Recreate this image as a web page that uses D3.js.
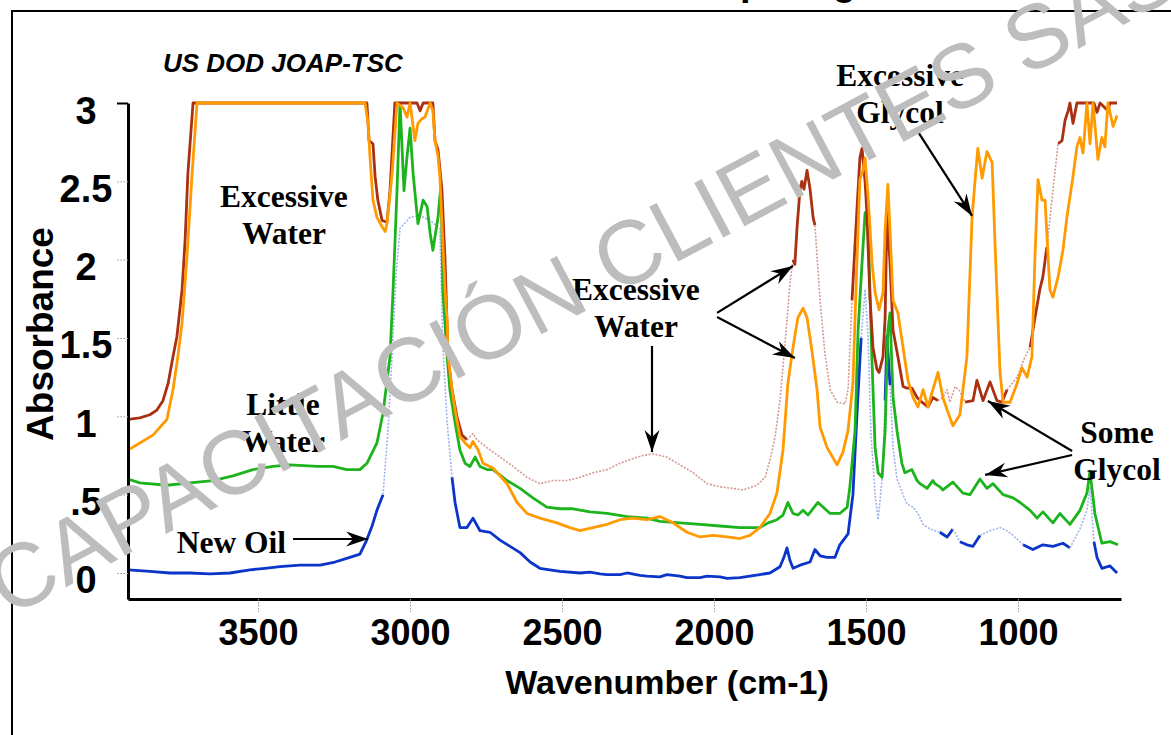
<!DOCTYPE html>
<html><head><meta charset="utf-8">
<script src="https://cdn.jsdelivr.net/npm/d3@7"></script>
<style>html,body{margin:0;padding:0;background:#fff;overflow:hidden}svg{display:block}</style>
</head><body>
<svg id="chart" width="1171" height="735"></svg>
<script>
// ---------------- data ----------------
const xTickValues = [3500, 3000, 2500, 2000, 1500, 1000];
const yTickValues = [0, 0.5, 1, 1.5, 2, 2.5, 3];
const yTickLabels = ["0", ".5", "1", "1.5", "2", "2.5", "3"];

// New Oil (blue)  [wavenumber, absorbance]
const newOil = [[3928,0.02],[3856,0.01],[3790,0.0],[3724,0.0],[3658,-0.005],[3592,0.0],[3527,0.02],[3477,0.03],[3428,0.04],[3362,0.05],[3296,0.05],[3247,0.07],[3198,0.1],[3165,0.12],[3145,0.2],[3125,0.3],[3109,0.4],[3089,0.5],[3073,0.9],[3059,1.4],[3046,1.9],[3033,2.2],[3000,2.27],[2967,2.28],[2934,2.25],[2902,2.2],[2892,1.44],[2878,0.96],[2862,0.61],[2852,0.45],[2836,0.29],[2813,0.29],[2793,0.35],[2770,0.27],[2737,0.26],[2704,0.21],[2671,0.17],[2638,0.13],[2605,0.07],[2573,0.03],[2507,0.01],[2441,0.0],[2408,0.005],[2375,-0.005],[2352,-0.01],[2309,-0.01],[2286,0.0],[2244,-0.015],[2221,-0.02],[2178,-0.025],[2155,-0.01],[2112,-0.02],[2089,-0.03],[2046,-0.03],[2023,-0.02],[1980,-0.025],[1957,-0.035],[1915,-0.03],[1882,-0.02],[1849,-0.01],[1816,0.0],[1783,0.04],[1770,0.1],[1760,0.16],[1750,0.08],[1740,0.03],[1717,0.05],[1684,0.07],[1668,0.15],[1651,0.11],[1628,0.1],[1602,0.1],[1586,0.18],[1559,0.25],[1543,0.5],[1530,1.0],[1516,1.5],[1503,1.81],[1493,1.5],[1484,0.9],[1470,0.5],[1460,0.34],[1447,0.6],[1437,1.1],[1431,1.51],[1421,1.2],[1411,0.8],[1398,0.6],[1378,0.5],[1365,0.44],[1345,0.42],[1329,0.38],[1312,0.31],[1289,0.28],[1257,0.26],[1233,0.23],[1214,0.28],[1191,0.2],[1168,0.18],[1148,0.17],[1125,0.24],[1092,0.27],[1059,0.29],[1036,0.27],[1016,0.24],[983,0.18],[951,0.15],[918,0.18],[885,0.17],[852,0.19],[829,0.16],[796,0.28],[773,0.4],[763,0.55],[750,0.2],[740,0.1],[724,0.03],[697,0.045],[674,0.0]];
const newOilFaint = [[3082,2862],[1522,1440],[1425,1250],[1222,1195],[1122,985],[826,755]];

// Little Water (green)
const littleWater = [[3928,0.6],[3889,0.575],[3800,0.56],[3724,0.575],[3648,0.59],[3583,0.62],[3517,0.66],[3451,0.68],[3395,0.69],[3306,0.68],[3254,0.68],[3208,0.66],[3165,0.66],[3142,0.70],[3109,0.83],[3089,1.02],[3066,1.38],[3056,1.8],[3043,2.44],[3033,3.0],[3020,2.44],[3010,2.66],[3000,2.84],[2990,2.55],[2974,2.23],[2957,2.38],[2944,2.34],[2934,2.17],[2925,2.06],[2908,2.27],[2898,2.49],[2892,1.8],[2878,1.38],[2869,1.17],[2852,0.96],[2836,0.785],[2819,0.70],[2803,0.68],[2786,0.74],[2770,0.68],[2747,0.66],[2727,0.66],[2681,0.59],[2638,0.54],[2596,0.48],[2550,0.42],[2507,0.41],[2464,0.41],[2408,0.39],[2352,0.38],[2286,0.36],[2221,0.35],[2178,0.33],[2112,0.32],[2046,0.31],[1980,0.30],[1915,0.29],[1849,0.29],[1822,0.32],[1793,0.34],[1773,0.37],[1757,0.45],[1740,0.38],[1724,0.37],[1707,0.40],[1691,0.37],[1658,0.45],[1618,0.38],[1586,0.38],[1562,0.42],[1553,0.55],[1536,0.91],[1526,1.55],[1513,1.98],[1503,2.30],[1493,2.19],[1480,1.34],[1470,0.80],[1460,0.64],[1447,0.61],[1437,0.91],[1428,1.55],[1421,1.66],[1411,1.12],[1398,0.91],[1382,0.70],[1372,0.64],[1349,0.66],[1332,0.59],[1322,0.57],[1299,0.54],[1280,0.59],[1273,0.57],[1257,0.55],[1247,0.53],[1214,0.58],[1181,0.51],[1158,0.50],[1125,0.60],[1102,0.54],[1082,0.57],[1049,0.50],[1016,0.48],[993,0.45],[960,0.40],[937,0.35],[918,0.39],[885,0.32],[862,0.38],[829,0.31],[796,0.40],[773,0.51],[763,0.65],[747,0.38],[724,0.19],[697,0.2],[671,0.18]];

// Excessive water sample (dark red)
const waterSample = [[3928,0.98],[3889,0.99],[3856,1.01],[3833,1.04],[3813,1.10],[3796,1.21],[3780,1.38],[3767,1.51],[3750,1.81],[3740,2.13],[3731,2.55],[3714,3.0],[3142,3.0],[3135,2.76],[3122,2.74],[3115,2.53],[3106,2.38],[3092,2.25],[3076,2.24],[3066,2.44],[3050,3.0],[2977,3.0],[2967,2.95],[2957,3.0],[2925,3.0],[2918,2.76],[2908,2.70],[2895,2.44],[2885,2.0],[2875,1.38],[2862,1.17],[2846,1.0],[2829,0.88],[2813,0.85],[2803,0.87],[2793,0.89],[2780,0.85],[2747,0.80],[2704,0.74],[2661,0.68],[2615,0.61],[2573,0.57],[2530,0.59],[2484,0.59],[2441,0.61],[2398,0.64],[2352,0.66],[2309,0.70],[2267,0.73],[2234,0.75],[2201,0.76],[2155,0.74],[2112,0.69],[2069,0.64],[2023,0.57],[1980,0.55],[1938,0.54],[1905,0.53],[1859,0.56],[1832,0.61],[1816,0.72],[1799,0.87],[1783,1.10],[1766,1.47],[1750,1.85],[1740,2.0],[1734,1.97],[1727,2.2],[1717,2.45],[1711,2.50],[1704,2.45],[1694,2.57],[1684,2.45],[1674,2.27],[1668,2.22],[1651,1.74],[1635,1.40],[1618,1.17],[1595,1.09],[1569,1.08],[1559,1.17],[1546,1.74],[1530,2.31],[1520,2.65],[1513,2.71],[1503,2.5],[1497,2.3],[1487,1.76],[1477,1.44],[1464,1.30],[1457,1.28],[1444,1.38],[1437,1.63],[1431,2.3],[1421,1.98],[1411,1.55],[1395,1.38],[1378,1.19],[1365,1.18],[1349,1.18],[1332,1.12],[1316,1.09],[1296,1.06],[1280,1.12],[1263,1.10],[1247,1.12],[1233,1.17],[1224,1.09],[1207,1.19],[1191,1.16],[1174,1.09],[1148,1.10],[1135,1.23],[1115,1.10],[1092,1.22],[1069,1.10],[1053,1.09],[1036,1.17],[1003,1.25],[977,1.38],[960,1.44],[944,1.63],[928,1.81],[918,1.89],[905,2.08],[885,2.44],[868,2.74],[855,2.76],[845,2.89],[835,2.95],[829,3.0],[819,2.87],[806,3.0],[750,3.0],[740,2.94],[730,3.0],[704,2.95],[697,3.0],[674,3.0]];
const waterSampleFaint = [[2809,1740],[1661,1549],[1266,1165],[1043,960],[905,868]];

// Excessive glycol sample (orange)
const glycolSample = [[3928,0.785],[3889,0.83],[3846,0.88],[3800,0.98],[3780,1.17],[3764,1.38],[3750,1.6],[3734,2.02],[3717,2.55],[3701,3.0],[3148,3.0],[3138,2.87],[3132,2.66],[3122,2.38],[3109,2.27],[3092,2.21],[3082,2.18],[3076,2.23],[3059,2.55],[3043,3.0],[3023,2.97],[3010,2.91],[3000,3.0],[2984,2.76],[2974,2.87],[2961,2.90],[2951,2.91],[2934,3.0],[2925,2.95],[2918,2.76],[2908,2.66],[2902,2.53],[2895,2.23],[2885,1.81],[2878,1.6],[2875,1.38],[2862,1.17],[2852,1.04],[2836,0.87],[2819,0.83],[2803,0.80],[2793,0.84],[2776,0.785],[2760,0.70],[2727,0.67],[2681,0.57],[2648,0.45],[2615,0.38],[2573,0.35],[2517,0.32],[2474,0.29],[2441,0.27],[2398,0.29],[2352,0.31],[2309,0.34],[2267,0.35],[2221,0.34],[2178,0.36],[2135,0.32],[2089,0.26],[2046,0.23],[2003,0.24],[1957,0.23],[1915,0.22],[1882,0.24],[1849,0.29],[1816,0.38],[1793,0.51],[1773,0.785],[1757,1.21],[1740,1.44],[1724,1.63],[1707,1.69],[1694,1.63],[1678,1.42],[1661,1.17],[1651,0.93],[1628,0.80],[1595,0.69],[1576,0.77],[1559,0.91],[1543,1.21],[1530,1.98],[1520,2.51],[1510,2.57],[1503,2.65],[1493,2.40],[1480,1.98],[1470,1.79],[1457,1.68],[1444,1.79],[1437,2.19],[1428,2.48],[1421,2.19],[1411,1.74],[1395,1.66],[1378,1.44],[1362,1.23],[1345,1.12],[1329,1.06],[1312,1.17],[1296,1.06],[1280,1.17],[1263,1.28],[1247,1.12],[1233,1.04],[1214,0.94],[1191,1.01],[1168,1.38],[1151,2.27],[1141,2.51],[1132,2.71],[1118,2.52],[1102,2.69],[1085,2.62],[1076,2.13],[1059,1.28],[1049,1.09],[1026,1.09],[1003,1.21],[987,1.31],[970,1.25],[954,1.38],[944,2.02],[934,2.51],[921,2.38],[911,2.38],[905,2.17],[895,1.81],[885,1.76],[868,1.89],[852,2.06],[839,2.27],[819,2.53],[806,2.72],[796,2.78],[786,2.68],[773,3.0],[763,2.74],[753,3.0],[737,2.64],[724,2.78],[714,2.72],[704,3.0],[687,2.85],[674,2.92]];

// annotations (data coordinates)
const labels = [
  {lines:["Excessive","Water"], wn:3415, a:2.336, anchor:"middle"},
  {lines:["Little","Water"],    wn:3418, a:1.008, anchor:"middle"},
  {lines:["New Oil"],           wn:3408, a:0.128, anchor:"end"},
  {lines:["Excessive","Water"], wn:2257, a:1.743, anchor:"middle"},
  {lines:["Excessive","Glycol"],wn:1388, a:3.108, anchor:"middle"},
  {lines:["Some","Glycol"],     wn:674,  a:0.830, anchor:"middle"}
];
const arrows = [
  {from:[3385,0.217], to:[3138,0.217]},
  {from:[2204,1.449], to:[2204,0.772]},
  {from:[1990,1.66],  to:[1740,1.96]},
  {from:[1990,1.634], to:[1734,1.372]},
  {from:[1326,2.808], to:[1151,2.279]},
  {from:[822,0.779],  to:[1099,1.098]},
  {from:[822,0.753],  to:[1108,0.626]}
];

// ---------------- drawing ----------------
const svg = d3.select("#chart");
const x = d3.scaleLinear().domain([3928, 661]).range([128, 1121]);
const y = d3.scaleLinear().domain([-0.166, 3]).range([599, 103]);
const SANS = "'Liberation Sans', Arial, Helvetica, sans-serif";
const SERIF = "'Liberation Serif', 'Times New Roman', serif";

// frame + partial title (cut off at the top, as in the source image)
svg.append("text").attr("x", 856).attr("y", -5).attr("text-anchor", "end")
  .attr("font-family", SANS).attr("font-weight", "bold").attr("font-size", 38)
  .text("Oil Contamination Comparing");
svg.append("path").attr("d", "M12,736 V11 H1172").attr("fill", "none")
  .attr("stroke", "#000").attr("stroke-width", 2);

svg.append("text").attr("x", 163).attr("y", 72)
  .attr("font-family", SANS).attr("font-weight", "bold").attr("font-style", "italic")
  .attr("font-size", 26).text("US DOD JOAP-TSC");

// clip
const defs = svg.append("defs");
defs.append("clipPath").attr("id", "plotclip")
  .append("rect").attr("x", 128).attr("y", 95).attr("width", 993).attr("height", 504);
defs.append("marker").attr("id", "arrowhead").attr("markerUnits", "userSpaceOnUse")
  .attr("viewBox", "-24 -10 26 20").attr("refX", 0).attr("refY", 0)
  .attr("markerWidth", 26).attr("markerHeight", 20).attr("orient", "auto")
  .append("path").attr("d", "M0,0 L-22,-7.5 L-15,0 L-22,7.5 Z").attr("fill", "#000");

// series
const line = d3.line().x(d => x(d[0])).y(d => y(d[1]));
function segments(data, faint) {
  const isFaint = (a, b) => { const m = (a[0] + b[0]) / 2; return faint.some(r => m <= r[0] && m >= r[1]); };
  const segs = []; let cur = null;
  for (let i = 0; i < data.length - 1; i++) {
    const f = isFaint(data[i], data[i + 1]);
    if (!cur || cur.faint !== f) { cur = {faint: f, pts: [data[i]]}; segs.push(cur); }
    cur.pts.push(data[i + 1]);
  }
  return segs;
}
const series = [
  {data: newOil, faint: newOilFaint, color: "#0b35c9", faintColor: "#9fb2ee"},
  {data: littleWater, faint: [], color: "#1db31d", faintColor: "#1db31d"},
  {data: waterSample, faint: waterSampleFaint, color: "#aa3012", faintColor: "#d29a92"},
  {data: glycolSample, faint: [], color: "#ff9a00", faintColor: "#ff9a00"}
];
const gLines = svg.append("g").attr("clip-path", "url(#plotclip)");
series.forEach(s => {
  segments(s.data, s.faint).forEach(seg => {
    gLines.append("path").attr("d", line(seg.pts)).attr("fill", "none")
      .attr("stroke", seg.faint ? s.faintColor : s.color)
      .attr("stroke-width", seg.faint ? 1.6 : 2.8)
      .attr("stroke-dasharray", seg.faint ? "2,1.5" : null)
      .attr("stroke-linejoin", "round");
  });
});

// axes
const yAxis = svg.append("g").attr("transform", "translate(128,0)")
  .call(d3.axisLeft(y).tickValues(yTickValues).tickSize(11).tickSizeOuter(0)
    .tickFormat((d, i) => yTickLabels[i]));
yAxis.select(".domain").attr("stroke-width", 3).attr("stroke", "#000");
yAxis.selectAll(".tick line").attr("stroke", d => d === 3 ? "#000" : "#9a9a9a")
  .attr("stroke-width", d => d === 3 ? 2 : 1).attr("stroke-dasharray", d => d === 3 ? null : "1.5,1.5");
yAxis.selectAll(".tick text").attr("x", -42).attr("dy", 0).attr("y", 20)
  .attr("text-anchor", "middle").attr("font-family", SANS).attr("font-weight", "bold")
  .attr("font-size", 38).attr("fill", "#000");

const xAxis = svg.append("g").attr("transform", "translate(0,599)")
  .call(d3.axisBottom(x).tickValues(xTickValues).tickSize(13).tickSizeOuter(0)
    .tickFormat(d3.format("d")));
xAxis.select(".domain").attr("stroke-width", 3).attr("stroke", "#000");
xAxis.selectAll(".tick line").attr("stroke", "#9a9a9a").attr("stroke-dasharray", "1.5,1.5");
xAxis.selectAll(".tick text").attr("y", 46).attr("dy", 0)
  .attr("font-family", SANS).attr("font-weight", "bold").attr("font-size", 36).attr("fill", "#000");

svg.append("text").attr("transform", "translate(53,334) rotate(-90)").attr("text-anchor", "middle")
  .attr("font-family", SANS).attr("font-weight", "bold").attr("font-size", 37).text("Absorbance");
svg.append("text").attr("x", 667).attr("y", 694).attr("text-anchor", "middle")
  .attr("font-family", SANS).attr("font-weight", "bold").attr("font-size", 34).text("Wavenumber (cm-1)");

// annotations
labels.forEach(l => {
  const t = svg.append("text").attr("font-family", SERIF).attr("font-weight", "bold")
    .attr("font-size", 31.5).attr("text-anchor", l.anchor);
  l.lines.forEach((s, i) => t.append("tspan").attr("x", x(l.wn)).attr("y", y(l.a) + i * 37).text(s));
});
arrows.forEach(a => {
  svg.append("line").attr("x1", x(a.from[0])).attr("y1", y(a.from[1]))
    .attr("x2", x(a.to[0])).attr("y2", y(a.to[1]))
    .attr("stroke", "#000").attr("stroke-width", 2.2).attr("marker-end", "url(#arrowhead)");
});

// watermark
svg.append("text").attr("transform", "translate(8,618) rotate(-28)")
  .attr("font-family", SANS).attr("font-size", 90).attr("fill", "#bdbdbd")
  .text("CAPACITACIÓN CLIENTES SAS");
</script>
</body></html>
